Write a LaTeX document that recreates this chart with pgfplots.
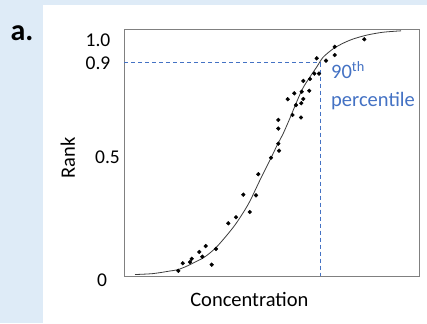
\documentclass[border=0pt]{standalone}
\usepackage{pgfplots}
\pgfplotsset{compat=1.18}
\usepackage{fontspec}
\setmainfont{Carlito}
\definecolor{bgc}{RGB}{222,235,247}
\definecolor{pblue}{RGB}{68,114,196}
\definecolor{framegray}{RGB}{128,128,128}
\definecolor{curvegray}{RGB}{60,60,60}
\begin{document}
\begin{tikzpicture}[x=1pt,y=1pt]
\fill[bgc] (0,0) rectangle (427,-323);
\fill[white] (43,-5) rectangle (427,-323);
\node[font=\fontsize{30}{34}\selectfont\bfseries] at (22,-33) {a.};
\begin{axis}[
  at={(124pt,-276pt)}, anchor=south west,
  scale only axis, width=295pt, height=246.7pt,
  xmin=0, xmax=295, ymin=-0.00426, ymax=1.0455,
  axis line style={framegray, line width=1pt},
  xtick=\empty,
  ytick={0.5,0.9,1.0},
  yticklabels={\hspace*{19pt}0.5,0.9,1.0},
  extra y ticks={0},
  extra y tick labels={\hspace*{8pt}0},
  extra y tick style={yticklabel style={yshift=-5pt}},
  major tick length=0pt,
  /pgf/number format/assume math mode=true,
  yticklabel style={anchor=center, xshift=-26pt, font=\fontsize{19.5}{22}\selectfont},
  xlabel={Concentration}, ylabel={Rank},
  every axis x label/.style={at={(axis description cs:0.425,-0.097)}, anchor=center, font=\fontsize{20.5}{24}\selectfont},
  every axis y label/.style={at={(axis description cs:-0.19,0.478)}, anchor=center, rotate=90, font=\fontsize{20.5}{24}\selectfont},
  clip=false,
]
\addplot[draw=pblue, line width=1.1pt, dash pattern=on 4pt off 3pt] coordinates {(0,0.904) (196.7,0.904)};
\addplot[draw=pblue, line width=1.1pt, dash pattern=on 4pt off 3pt] coordinates {(196.7,0.904) (196.7,-0.00426)};
\addplot[curvegray, line width=0.8pt, smooth] coordinates {
(11,0.002) (29,0.006) (46,0.017) (54,0.023) (63,0.038) (71,0.055) (79,0.072)
(86,0.094) (93,0.121) (103,0.170) (111,0.213) (119,0.264) (126,0.315)
(136,0.404) (147,0.498) (154,0.560) (159,0.600) (166,0.668) (173,0.740)
(179,0.796) (186,0.843) (193,0.887) (199,0.926) (209,0.962) (219,0.986)
(229,1.004) (243,1.021) (259,1.033) (277,1.039)};
\addplot[only marks, mark=*, mark size=1.9pt, black] coordinates {
(54.3,0.018) (58.7,0.050) (66,0.055) (67.7,0.069) (75.3,0.098) (78.3,0.078)
(81.7,0.123) (87.7,0.044) (92,0.111) (104.3,0.220) (112,0.246) (119.3,0.342)
(125.7,0.268) (132,0.339) (134.3,0.429) (147,0.499) (154.3,0.559) (155,0.529)
(154.3,0.623) (154.3,0.660) (168.5,0.681) (177,0.670) (172,0.723) (177.3,0.731)
(179.3,0.749) (163.7,0.748) (170.3,0.773) (177.7,0.780) (185.3,0.784)
(179.3,0.826) (186,0.834) (190.3,0.857) (195,0.857) (192.7,0.922) (202,0.912)
(210.7,0.936) (210.7,0.971) (240.3,1.003)};
\node[pblue, anchor=base west, font=\fontsize{20.5}{24}\selectfont, inner sep=0pt] at (axis cs:207,0.836) {90\textsuperscript{th}};
\node[pblue, anchor=base west, font=\fontsize{20.5}{24}\selectfont, inner sep=0pt] at (axis cs:207,0.719) {percentile};
\end{axis}
\end{tikzpicture}
\end{document}
